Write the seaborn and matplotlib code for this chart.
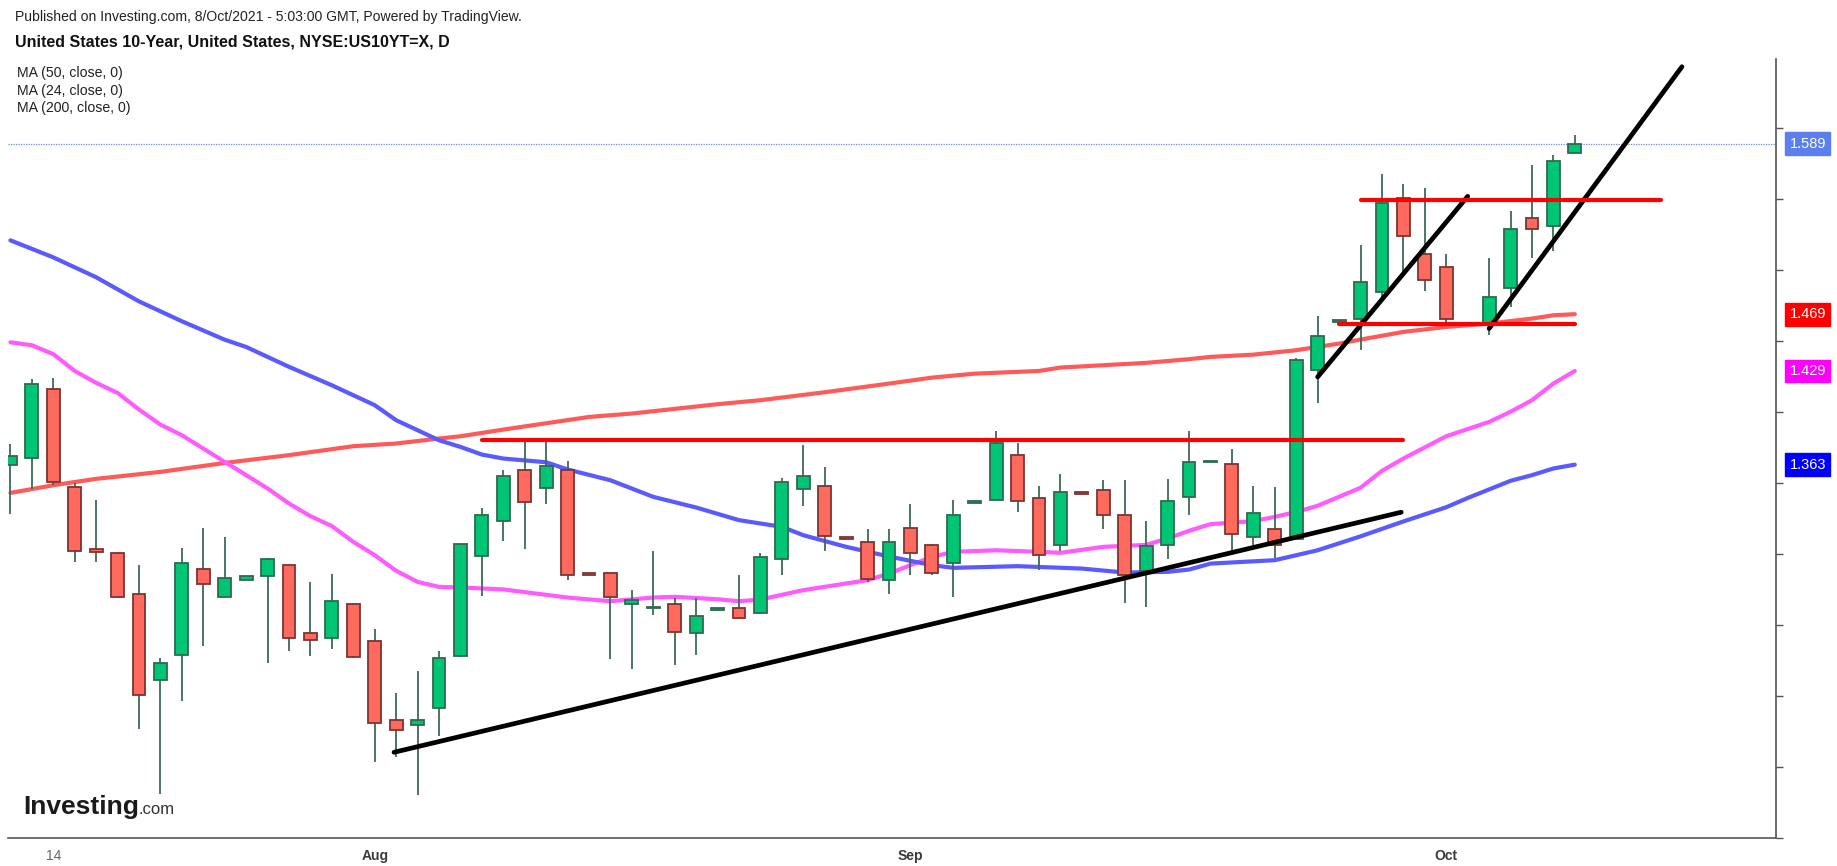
import numpy as np
import pandas as pd
import matplotlib
matplotlib.use('Agg')
import matplotlib.pyplot as plt
import matplotlib.transforms as mtransforms
import seaborn as sns

sns.set_style('white')
plt.rcParams['font.family'] = ['Liberation Sans', 'DejaVu Sans']

# daily candles (bar index 0..73)
opens = [1.3626, 1.3678, 1.4161, 1.3476, 1.3034, 1.3009, 1.2718, 1.2112, 1.2288, 1.2894,
         1.2699, 1.2816, 1.2849, 1.2922, 1.2445, 1.2410, 1.2647, 1.2391, 1.1828, 1.1793,
         1.1917, 1.2283, 1.2990, 1.3234, 1.3589, 1.3464, 1.3589, 1.2868, 1.2868, 1.2647,
         1.2619, 1.2647, 1.2443, 1.2603, 1.2619, 1.2586, 1.2964, 1.3457, 1.3481, 1.3121,
         1.3086, 1.2816, 1.3187, 1.3063, 1.2938, 1.3361, 1.3379, 1.3696, 1.3396, 1.3063,
         1.3438, 1.3450, 1.3272, 1.2882, 1.3063, 1.3403, 1.3647, 1.3633, 1.3121, 1.3175,
         1.3105, 1.4295, 1.4638, 1.4659, 1.4847, 1.5509, 1.5112, 1.5025, 1.4631, 1.4612,
         1.4875, 1.5368, 1.5312, 1.5826]
highs = [1.3779, 1.4232, 1.4243, 1.3504, 1.3380, 1.3016, 1.2922, 1.2269, 1.3046, 1.3187,
         1.3121, 1.2849, 1.2974, 1.2922, 1.2800, 1.2863, 1.2659, 1.2474, 1.2025, 1.2175,
         1.2316, 1.3074, 1.3328, 1.3591, 1.3790, 1.3802, 1.3654, 1.2868, 1.2868, 1.2746,
         1.3020, 1.2694, 1.2694, 1.2623, 1.2854, 1.3009, 1.3539, 1.3767, 1.3610, 1.3121,
         1.3180, 1.3180, 1.3356, 1.3074, 1.3379, 1.3379, 1.3865, 1.3786, 1.3478, 1.3567,
         1.3438, 1.3525, 1.3525, 1.3232, 1.3530, 1.3865, 1.3657, 1.3743, 1.3478, 1.3473,
         1.4384, 1.4675, 1.4652, 1.5175, 1.5680, 1.5610, 1.5582, 1.5117, 1.4631, 1.5088,
         1.5415, 1.5739, 1.5809, 1.5950]
lows = [1.3279, 1.3455, 1.3490, 1.2941, 1.2945, 1.2694, 1.1765, 1.1307, 1.1966, 1.2354,
        1.2699, 1.2816, 1.2236, 1.2316, 1.2283, 1.2335, 1.2265, 1.1534, 1.1572, 1.1302,
        1.1720, 1.2276, 1.2704, 1.3091, 1.3039, 1.3356, 1.2821, 1.2851, 1.2258, 1.2194,
        1.2574, 1.2218, 1.2288, 1.2600, 1.2544, 1.2581, 1.2856, 1.3340, 1.3023, 1.3105,
        1.2802, 1.2722, 1.2856, 1.2856, 1.2699, 1.3359, 1.3379, 1.3293, 1.2887, 1.3023,
        1.3426, 1.3180, 1.2652, 1.2628, 1.2962, 1.3274, 1.3647, 1.2997, 1.3063, 1.2976,
        1.3105, 1.4067, 1.4638, 1.4441, 1.4776, 1.4952, 1.4852, 1.4631, 1.4612, 1.4546,
        1.4741, 1.5088, 1.5135, 1.5826]
closes = [1.3692, 1.4201, 1.3509, 1.3025, 1.3016, 1.2699, 1.2004, 1.2234, 1.2938, 1.2786,
          1.2833, 1.2849, 1.2964, 1.2410, 1.2394, 1.2673, 1.2276, 1.1812, 1.1760, 1.1828,
          1.2269, 1.3070, 1.3272, 1.3553, 1.3368, 1.3624, 1.2851, 1.2851, 1.2699, 1.2680,
          1.2623, 1.2452, 1.2567, 1.2619, 1.2549, 1.2983, 1.3509, 1.3553, 1.3124, 1.3105,
          1.2823, 1.3086, 1.3009, 1.2868, 1.3274, 1.3377, 1.3786, 1.3377, 1.2992, 1.3438,
          1.3426, 1.3272, 1.2851, 1.3056, 1.3377, 1.3652, 1.3657, 1.3140, 1.3290, 1.3063,
          1.4366, 1.4537, 1.4652, 1.4917, 1.5473, 1.5241, 1.4934, 1.4659, 1.4612, 1.4812,
          1.5288, 1.5288, 1.5769, 1.5890]

# moving averages, read at selected bars
ma50_bar = [0, 2, 4, 6, 8, 10, 11, 13, 15, 17, 18, 20, 21, 22, 23, 25, 26, 28, 30, 32, 34, 36,
            37, 39, 41, 43, 44, 47, 50, 52, 54, 55, 56, 59, 61, 63, 65, 67, 68, 70, 71, 72, 73]
ma50_val = [1.521, 1.509, 1.495, 1.478, 1.464, 1.451, 1.4459, 1.4319, 1.4189, 1.4049, 1.3943,
            1.3802, 1.3755, 1.3701, 1.3673, 1.3647, 1.3596, 1.3520, 1.3403, 1.3328, 1.3239,
            1.3192, 1.3133, 1.3051, 1.2983, 1.2922, 1.2903, 1.2915, 1.2898, 1.2870, 1.2875,
            1.2891, 1.2933, 1.2957, 1.3027, 1.3125, 1.3230, 1.3330, 1.3395, 1.3516, 1.3556,
            1.3603, 1.363]
ma24_bar = [0, 1, 2, 3, 4, 5, 6, 7, 8, 9, 10, 11, 12, 13, 14, 15, 16, 17, 18, 19, 20, 21, 23,
            26, 28, 30, 31, 33, 34, 35, 37, 39, 40, 41, 42, 43, 44, 46, 48, 49, 51, 53, 54, 55,
            56, 58, 59, 60, 61, 63, 64, 65, 67, 69, 70, 71, 72, 73]
ma24_val = [1.4492, 1.4471, 1.4408, 1.4290, 1.4206, 1.4135, 1.4018, 1.3912, 1.3837, 1.3743,
            1.3649, 1.3556, 1.3462, 1.3356, 1.3267, 1.3197, 1.3086, 1.2992, 1.2882, 1.2804,
            1.2769, 1.2765, 1.2751, 1.2694, 1.2668, 1.2694, 1.2699, 1.2682, 1.2668, 1.2680,
            1.2746, 1.2793, 1.2816, 1.2863, 1.2922, 1.2980, 1.3016, 1.3027, 1.3016, 1.3009,
            1.3051, 1.3065, 1.3110, 1.3164, 1.3211, 1.3232, 1.3262, 1.3297, 1.3340, 1.3467,
            1.3586, 1.3673, 1.3830, 1.3931, 1.4002, 1.4084, 1.4201, 1.429]
ma200_bar = [0, 2, 4, 7, 10, 13, 16, 18, 20, 21, 23, 27, 29, 33, 35, 38, 41, 43, 45, 48, 49, 53,
             55, 56, 58, 60, 62, 63, 65, 67, 69, 71, 72, 73]
ma200_val = [1.3431, 1.3485, 1.3530, 1.3579, 1.3642, 1.3697, 1.3760, 1.3779, 1.3814, 1.3830,
             1.3877, 1.3966, 1.3990, 1.4056, 1.4084, 1.4140, 1.4201, 1.4243, 1.4271, 1.4290,
             1.4314, 1.4347, 1.4373, 1.4389, 1.4405, 1.4436, 1.4483, 1.4511, 1.4565, 1.4600,
             1.4624, 1.4659, 1.4682, 1.469]

# drawn trendlines and levels
trend_lines = [([17.9, 64.9], [1.1604, 1.3295]),
               ([61.0, 68.0], [1.4248, 1.5520]),
               ([69.0, 78.0], [1.4589, 1.6433])]
level_lines = [([22, 65], 1.3802), ([63, 77], 1.5492), ([62, 73], 1.4619)]

tick_bars = list(range(2, 83, 5))
tick_names = {2: '14', 17: 'Aug', 42: 'Sep', 67: 'Oct'}

df = pd.DataFrame({'open': opens, 'high': highs, 'low': lows, 'close': closes})
df['bar'] = np.arange(len(df))
up = df['close'] >= df['open']

fig = plt.figure(figsize=(18.37, 8.66), dpi=100)
ax = fig.add_axes([0.00452, 0.0323, 0.9624, 0.9000])

# moving averages
sns.lineplot(x=ma200_bar, y=ma200_val, color='#ff5a5a', lw=3.0, ax=ax, zorder=2)
sns.lineplot(x=ma24_bar, y=ma24_val, color='#ff5cff', lw=3.0, ax=ax, zorder=2)
sns.lineplot(x=ma50_bar, y=ma50_val, color='#5a5aff', lw=3.0, ax=ax, zorder=2)

# candles
ax.vlines(df['bar'], df['low'], df['high'], color='#3d6a55', lw=1.3, zorder=3)
body_lo = df[['open', 'close']].min(axis=1)
body_h = (df['close'] - df['open']).abs().clip(lower=0.0005)
ax.bar(df['bar'], body_h, bottom=body_lo, width=0.6,
       color=np.where(up, '#00c574', '#ff6a5e'),
       edgecolor=np.where(up, '#2e6a4f', '#7d3431'), linewidth=1.3, zorder=4)

for xs, ys in trend_lines:
    ax.plot(xs, ys, color='black', lw=3.4, solid_capstyle='round', zorder=5)
for xs, lvl in level_lines:
    ax.plot(xs, [lvl, lvl], color='#ff0000', lw=3.0, zorder=5)

last = closes[-1]
ax.axhline(last, color='#6d8cf0', lw=0.9, ls=(0, (1, 1)), zorder=1)

ax.set_xlim(-0.1, 82.4)
ax.set_ylim(1.100, 1.649)

for side in ['left', 'top']:
    ax.spines[side].set_visible(False)
for side in ['right', 'bottom']:
    ax.spines[side].set_color('#555555')
    ax.spines[side].set_linewidth(1.2)

ax.yaxis.tick_right()
ax.set_yticks(np.arange(1.10, 1.601, 0.05))
ax.set_yticklabels([])
ax.tick_params(axis='y', length=5, width=1, color='#555555')
ax.set_xticks(tick_bars)
ax.set_xticklabels([tick_names.get(b, '') for b in tick_bars])
ax.tick_params(axis='x', length=5, width=1, color='#555555', pad=3, labelsize=10)
for lab in ax.get_xticklabels():
    if lab.get_text() == '14':
        lab.set_color('#666666')
    else:
        lab.set_color('#3a3a3a')
        lab.set_fontweight('bold')
ax.set_xlabel('')
ax.set_ylabel('')

# price labels on the right scale
trans = mtransforms.blended_transform_factory(ax.transAxes, ax.transData)
for val, col in [(last, '#5b80ee'), (ma200_val[-1], '#ff0000'),
                 (ma24_val[-1], '#ff00ff'), (ma50_val[-1], '#0000ff')]:
    ax.text(1.0075, val, f'{val:.3f}', transform=trans, ha='left', va='center',
            color='white', fontsize=10.5, zorder=6, clip_on=False,
            bbox=dict(boxstyle='square,pad=0.3', fc=col, ec=col))

# header
fig.text(15 / 1837, 1 - 17 / 866, 'Published on Investing.com, 8/Oct/2021 - 5:03:00 GMT, Powered by TradingView.',
         fontsize=10.1, va='center', color='#222222')
fig.text(15 / 1837, 1 - 42 / 866, 'United States 10-Year, United States, NYSE:US10YT=X, D',
         fontsize=11.5, fontweight='bold', va='center', color='#111111')
for k, txt in enumerate(['MA (50, close, 0)', 'MA (24, close, 0)', 'MA (200, close, 0)']):
    fig.text(17 / 1837, 1 - (73 + 17.5 * k) / 866, txt, fontsize=10.2, va='center', color='#222222')

# watermark
t = fig.text(23 / 1837, 1 - 814 / 866, 'Investing', fontsize=19, fontweight='bold',
             color='#1a1a1a', va='baseline')
fig.canvas.draw()
fig.text(0, 0, '.com', fontsize=12, color='#333333', va='baseline',
         transform=mtransforms.offset_copy(fig.transFigure, fig=fig,
                                           x=t.get_window_extent().x1 / 100,
                                           y=(1 - 814 / 866) * 8.66, units='inches'))

fig.savefig('out.png', dpi=100)
